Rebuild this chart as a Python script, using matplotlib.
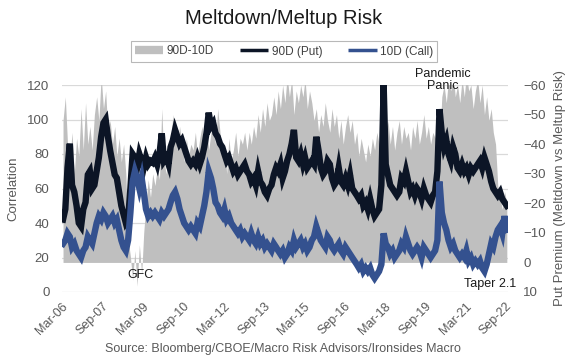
import matplotlib
matplotlib.use("Agg")
import matplotlib.pyplot as plt
from matplotlib.lines import Line2D
import numpy as np
import pandas as pd
from datetime import datetime

plt.rcParams['font.family'] = ['Liberation Sans', 'DejaVu Sans']

# Monthly readings, Mar-2006 .. Sep-2022
put_90d = [
    42, 48, 72, 86, 62, 58, 50, 40, 38, 48,                  # 2006 (Mar-Dec)
    52, 68, 70, 60, 62, 70, 78, 90, 98, 100, 90, 82,         # 2007
    75, 68, 66, 58, 50, 45, 40, 42, 60, 80, 78, 72,          # 2008
    80, 76, 72, 78, 74, 76, 75, 78, 74, 80, 92, 76,          # 2009
    78, 74, 84, 88, 94, 90, 86, 88, 84, 80, 76, 74,          # 2010
    76, 74, 78, 74, 78, 84, 92, 104, 96, 98, 92, 90,         # 2011
    86, 84, 80, 76, 78, 74, 70, 72, 68, 70, 72, 74,          # 2012
    70, 68, 64, 66, 62, 70, 64, 62, 58, 56, 60, 62,          # 2013
    68, 72, 70, 74, 66, 70, 76, 80, 86, 94, 78, 76,          # 2014
    80, 74, 78, 72, 74, 76, 74, 90, 82, 72, 68, 70,          # 2015
    76, 74, 66, 62, 64, 72, 64, 62, 66, 62, 68, 60,          # 2016
    58, 56, 54, 56, 50, 52, 48, 54, 48, 44, 46, 48,          # 2017
    62, 120, 74, 68, 62, 60, 58, 56, 58, 66, 64, 70,         # 2018
    64, 58, 60, 56, 60, 58, 54, 60, 56, 54, 52, 56,          # 2019
    58, 70, 106, 92, 84, 88, 80, 76, 84, 80, 72, 70,         # 2020
    74, 70, 72, 68, 72, 70, 72, 74, 76, 72, 78, 74,          # 2021
    70, 64, 60, 58, 56, 58, 54, 52, 50,                      # 2022 (Jan-Sep)
]

call_10d = [
    28, 30, 34, 32, 26, 28, 24, 22, 20, 24,
    26, 32, 30, 28, 34, 40, 44, 42, 46, 44, 40, 42,
    44, 40, 42, 36, 30, 26, 24, 30, 46, 64, 70, 66,
    60, 66, 58, 48, 44, 46, 44, 46, 44, 42, 46, 44,
    46, 48, 52, 56, 58, 54, 48, 44, 40, 38, 36, 38,
    36, 34, 40, 38, 44, 50, 58, 70, 66, 60, 52, 50,
    46, 44, 48, 42, 44, 40, 38, 36, 34, 36, 32, 34,
    32, 30, 34, 30, 28, 32, 28, 30, 26, 28, 26, 24,
    28, 26, 24, 22, 24, 20, 22, 26, 24, 30, 26, 28,
    30, 26, 28, 24, 26, 30, 32, 38, 34, 30, 28, 26,
    32, 30, 26, 24, 26, 28, 24, 22, 26, 24, 22, 20,
    18, 16, 14, 16, 12, 14, 12, 14, 10, 8, 10, 12,
    16, 34, 28, 26, 22, 24, 20, 22, 24, 28, 26, 32,
    28, 24, 22, 24, 26, 24, 20, 26, 24, 22, 20, 22,
    24, 30, 64, 46, 40, 36, 30, 26, 28, 24, 22, 20,
    22, 20, 24, 18, 20, 16, 18, 16, 18, 14, 12, 16,
    22, 28, 26, 32, 36, 38, 34, 44, 36,
]

# 90D-10D spread (shown as negative put premium on the right axis)
spread_90d_10d = [
    48, 56, 40, 34, 44, 30, 42, 36, 52, 38,
    54, 40, 46, 38, 50, 56, 48, 63, 52, 58, 44, 48,
    40, 46, 36, 42, 34, 40, 30, 8, 2, -6, 4, -8,
    6, -4, 10, 20, 28, 22, 30, 26, 32, 28, 52, 34,
    30, 38, 40, 50, 44, 38, 46, 40, 34, 42, 36, 40,
    38, 44, 36, 42, 46, 40, 48, 38, 44, 46, 40, 52,
    44, 36, 40, 30, 42, 34, 38, 44, 36, 42, 40, 44,
    38, 44, 40, 46, 42, 50, 44, 52, 46, 54, 48, 50,
    56, 50, 58, 52, 60, 54, 63, 56, 62, 50, 58, 54,
    60, 56, 62, 52, 58, 54, 48, 52, 44, 50, 46, 54,
    48, 44, 52, 46, 50, 42, 48, 40, 46, 50, 44, 48,
    40, 44, 36, 42, 38, 34, 40, 36, 42, 38, 44, 40,
    46, 58, 42, 48, 40, 46, 38, 44, 48, 40, 46, 42,
    44, 38, 46, 42, 48, 40, 44, 50, 42, 46, 40, 44,
    42, 50, 40, 56, 60, 54, 62, 58, 64, 56, 60, 54,
    62, 56, 64, 58, 60, 52, 58, 62, 54, 60, 50, 56,
    48, 52, 44, 40, 26, 22, 18, 24, 20,
]

tick_labels = ["Mar-06", "Sep-07", "Mar-09", "Sep-10", "Mar-12", "Sep-13",
               "Mar-15", "Sep-16", "Mar-18", "Sep-19", "Mar-21", "Sep-22"]

dates = pd.date_range("2006-03-01", "2022-09-01", freq="MS") + pd.Timedelta(days=14)
tick_dates = pd.to_datetime(tick_labels, format="%b-%y")

C_PUT = '#0c1526'
C_CALL = '#34518f'
C_GRAY = '#bfbfbf'
TXT = '#595959'

fig = plt.figure(figsize=(5.68, 3.64), dpi=100)
ax = fig.add_axes([62/568, 1-292/364, (508-62)/568, (292-85)/364])
ax_gray = ax.twinx()
ax_lines = ax.twinx()

# background axis: left scale + grid
ax.set_ylim(0, 120)
ax.set_yticks(range(0, 121, 20))
ax.grid(axis='y', color='#d9d9d9', lw=0.9)
ax.set_axisbelow(True)
ax.tick_params(axis='y', length=0, labelsize=9.5, labelcolor=TXT, pad=9)
ax.set_ylabel("Correlation", fontsize=9.5, color=TXT, labelpad=6)
ax.set_xlim(datetime(2006, 3, 1), datetime(2022, 10, 1))
ax.set_xticks(tick_dates)
ax.set_xticklabels(tick_labels, rotation=45, ha='right', va='top',
                   rotation_mode='anchor', fontsize=9, color=TXT)
ax.tick_params(axis='x', length=0, pad=6)

# gray spread on right axis (inverted)
ax_gray.fill_between(dates, 0, -np.array(spread_90d_10d), color=C_GRAY, lw=0)
ax_gray.set_ylim(10, -60)
ax_gray.set_yticks(range(-60, 11, 10))
ax_gray.tick_params(axis='y', length=0, labelsize=9.5, labelcolor=TXT, pad=11)
ax_gray.set_ylabel("Put Premium (Meltdown vs Meltup Risk)", fontsize=9.5,
                   color=TXT, rotation=90, labelpad=6)

# lines on top
ax_lines.set_ylim(0, 120)
ax_lines.plot(dates, put_90d, color=C_PUT, lw=4.6, solid_joinstyle='miter')
ax_lines.plot(dates, call_10d, color=C_CALL, lw=4.6, solid_joinstyle='miter')
ax_lines.yaxis.set_visible(False)

for a in (ax, ax_gray, ax_lines):
    for s in a.spines.values():
        s.set_visible(False)

ax_lines.text(datetime(2009, 2, 1), 10, "GFC", ha='center', va='center', fontsize=9, color='#1a1a1a')
ax_lines.text(datetime(2020, 5, 1), 123, "Pandemic\nPanic", ha='center', va='center',
              fontsize=9, color='#1a1a1a', linespacing=0.95, clip_on=False)
ax_lines.text(datetime(2022, 2, 1), 4.5, "Taper 2.1", ha='center', va='center',
              fontsize=9, color='#1a1a1a')

handles = [Line2D([], [], color=C_GRAY, lw=6, solid_capstyle='butt'),
           Line2D([], [], color=C_PUT, lw=2.5, solid_capstyle='butt'),
           Line2D([], [], color=C_CALL, lw=2.5, solid_capstyle='butt')]
leg = fig.legend(handles, ["90D-10D", "90D (Put)", "10D (Call)"], loc='center',
                 bbox_to_anchor=(284/568, 1-51.5/364), ncol=3, fontsize=8.5,
                 handlelength=2.4, handletextpad=0.3, columnspacing=2.2,
                 fancybox=False, edgecolor='#a6a6a6', borderpad=0.35)
leg.get_frame().set_linewidth(0.8)
for t in leg.get_texts():
    t.set_color('#404040')

fig.text(0.499, 1-18/364, "Meltdown/Meltup Risk", ha='center', va='center',
         fontsize=14.5, color='#1a1a1a')
fig.text(0.499, 1-349/364, "Source: Bloomberg/CBOE/Macro Risk Advisors/Ironsides Macro",
         ha='center', va='center', fontsize=9, color=TXT)

fig.savefig("out.png", dpi=100)
